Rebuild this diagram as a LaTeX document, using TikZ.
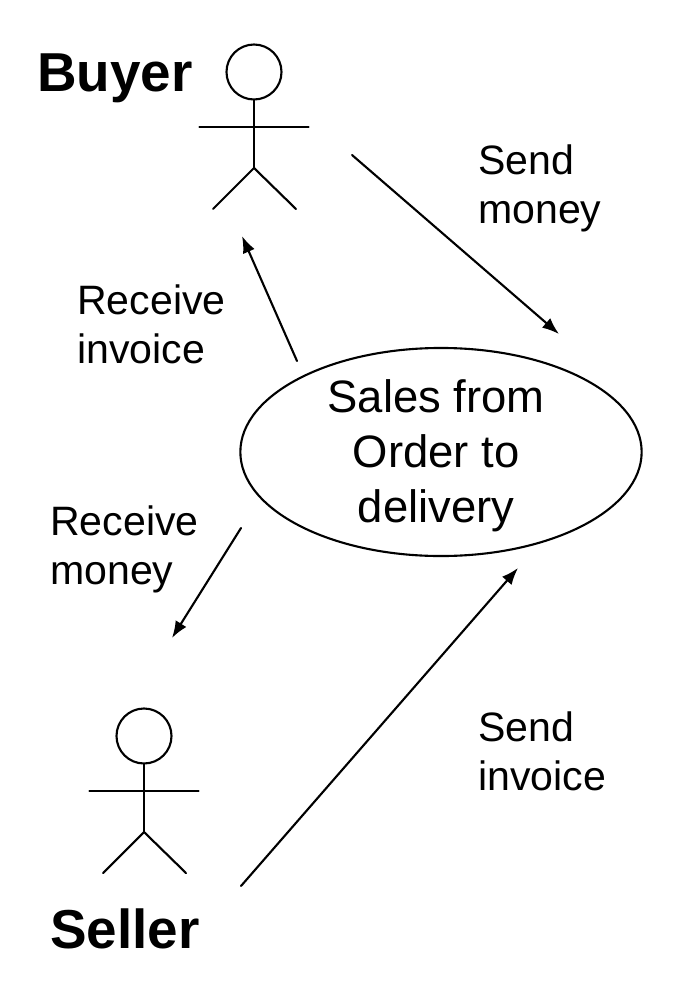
\documentclass[tikz,border=0pt]{standalone}
\usepackage{fontspec}
\setmainfont{Liberation Sans}
\usetikzlibrary{arrows.meta,shapes.geometric}
\tikzset{
  line/.style={draw,line width=1.5pt,line cap=round},
  flow/.style={line,-{Latex[length=12pt,width=9pt]}},
  small/.style={align=left,anchor=north west,inner sep=0pt,font=\fontsize{29.2}{35.5}\selectfont},
  actorname/.style={inner sep=0pt,font=\fontsize{39}{46}\selectfont\bfseries}
}
\newcommand{\actor}[2]{%
  \draw [line] (#1,#2) circle [radius=27.5];
  \draw [line] (#1,#2+28) -- (#1,#2+96);
  \draw [line] (#1-54.5,#2+55) -- (#1+54.5,#2+55);
  \draw [line] (#1-41,#2+137) -- (#1,#2+96) -- (#1+42,#2+137);
}
\begin{document}
\begin{tikzpicture}[x=0.025cm,y=-0.025cm]
    \useasboundingbox (0,0) rectangle (682,992);
    % actors
    \actor{254}{72}
    \actor{144}{736}
    \node [actorname] (buyer) at (115,78) {Buyer};
    \node [actorname] (seller) at (125,929) {Seller};
    % use case
    \node [ellipse,draw,line width=1.5pt,inner sep=0pt,
           minimum width=10.03cm,minimum height=5.2cm] (sales) at (441,452) {};
    \node [align=center,inner sep=0pt,font=\fontsize{32.3}{39}\selectfont] (salestext) at (436,456)
           {Sales from\\Order to\\delivery};
    % free ends
    \coordinate (buyerout) at (352,155);
    \coordinate (salesin) at (559,334);
    \coordinate (salesout) at (297,361);
    \coordinate (buyerin) at (242,236);
    \coordinate (salesleft) at (241,528);
    \coordinate (sellerin) at (172,638);
    \coordinate (sellerout) at (241,886);
    \coordinate (salesbottom) at (518,568);
    \draw [flow] (buyerout) -- (salesin);
    \draw [flow] (salesout) -- (buyerin);
    \draw [flow] (salesleft) -- (sellerin);
    \draw [flow] (sellerout) -- (salesbottom);
    % labels
    \node [small] (sendmoney) at (478,144) {Send\\money};
    \node [small] (recvinvoice) at (77,284) {Receive\\invoice};
    \node [small] (recvmoney) at (50,505) {Receive\\money};
    \node [small] (sendinvoice) at (478,711) {Send\\invoice};
\end{tikzpicture}
\end{document}
